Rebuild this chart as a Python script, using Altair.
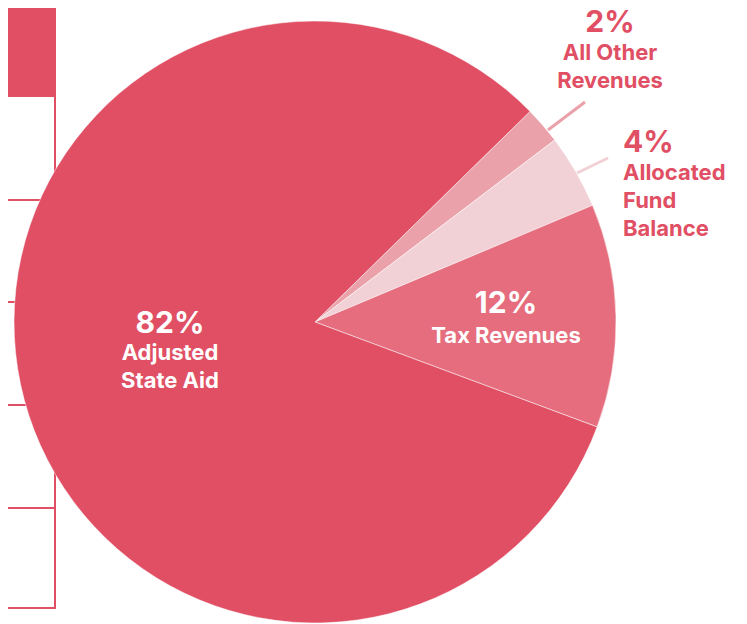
import math
import altair as alt
import pandas as pd

# ---- data ----
categories = ["All Other Revenues", "Allocated Fund Balance", "Tax Revenues", "Adjusted State Aid"]
values = [2, 4, 12, 82]
name_lines = ["All Other\nRevenues", "Allocated\nFund\nBalance", "Tax Revenues", "Adjusted\nState Aid"]
colors = ["#EAA1A9", "#F2D1D6", "#E56D7D", "#E04F64"]

df = pd.DataFrame({
    "category": categories,
    "value": values,
    "order": list(range(len(categories))),
    "pct": [f"{v}%" for v in values],
    "name": name_lines,
})

# ---- layout (chart pixel coordinates) ----
CX, CY, R = 307, 314, 301
START = math.radians(45.6)
RED = "#E04F64"
FONT = "Inter"

label_layout = {
    "Adjusted State Aid": dict(x=162, y_pct=325, y_name=352, align="center", color="white"),
    "Tax Revenues": dict(x=498, y_pct=305, y_name=335, align="center", color="white"),
    "All Other Revenues": dict(x=602, y_pct=24, y_name=52, align="center", color=RED),
    "Allocated Fund Balance": dict(x=615, y_pct=144, y_name=172, align="left", color=RED),
}
leaders = [
    dict(x=540, y=122, x2=577, y2=94, color="#EAA1A9"),
    dict(x=569, y=165, x2=600, y2=150, color="#F2D1D6"),
]
table_rows_y = [192, 294, 397, 500, 600]
TABLE_X = 47

blank = alt.Data(values=[{}])

pie = alt.Chart(df).mark_arc(radius=R, stroke="white", strokeWidth=0.5).encode(
    theta=alt.Theta("value:Q", stack=True,
                    scale=alt.Scale(range=[START, START + 2 * math.pi])),
    color=alt.Color("category:N", scale=alt.Scale(domain=categories, range=colors), legend=None),
    order=alt.Order("order:Q"),
    x=alt.value(CX),
    y=alt.value(CY),
)

layers = []

# decorative table at left
layers.append(
    alt.Chart(blank).mark_rect(color=RED).encode(
        x=alt.value(0), x2=alt.value(TABLE_X), y=alt.value(0), y2=alt.value(89))
)
for yy in table_rows_y:
    layers.append(
        alt.Chart(blank).mark_rule(color=RED, strokeWidth=2).encode(
            x=alt.value(0), x2=alt.value(TABLE_X), y=alt.value(yy))
    )
layers.append(
    alt.Chart(blank).mark_rule(color=RED, strokeWidth=2).encode(
        x=alt.value(TABLE_X), y=alt.value(0), y2=alt.value(table_rows_y[-1] + 1))
)

layers.append(pie)

for ld in leaders:
    layers.append(
        alt.Chart(blank).mark_rule(color=ld["color"], strokeWidth=3).encode(
            x=alt.value(ld["x"]), y=alt.value(ld["y"]),
            x2=alt.value(ld["x2"]), y2=alt.value(ld["y2"]))
    )

for cat, lay in label_layout.items():
    base = alt.Chart(df).transform_filter(alt.datum.category == cat)
    layers.append(
        base.mark_text(font=FONT, fontWeight=700, fontSize=30, align=lay["align"],
                       baseline="alphabetic", color=lay["color"]).encode(
            x=alt.value(lay["x"]), y=alt.value(lay["y_pct"]), text="pct:N")
    )
    layers.append(
        base.mark_text(font=FONT, fontWeight=700, fontSize=22, align=lay["align"],
                       baseline="alphabetic", color=lay["color"], lineBreak="\n",
                       lineHeight=28).encode(
            x=alt.value(lay["x"]), y=alt.value(lay["y_name"]), text="name:N")
    )

chart = alt.layer(*layers).properties(
    width=731, height=616, padding=0,
    autosize=alt.AutoSizeParams(type="none"),
).configure_view(stroke=None)

chart.save("out.html", embed_options={"renderer": "svg", "actions": False})
